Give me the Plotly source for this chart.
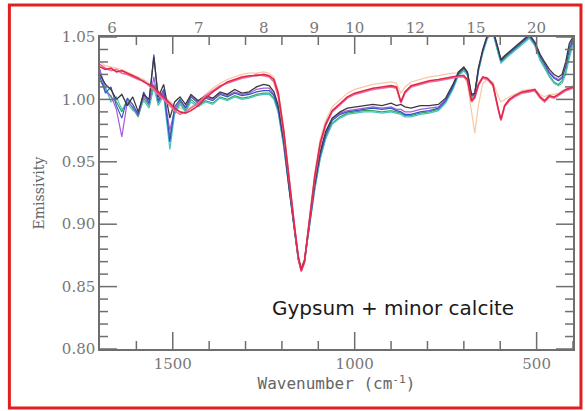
import plotly.graph_objects as go

# Wavenumber grid (cm^-1)
wavenumber = [1700,1685,1670,1655,1640,1625,1610,1595,1580,1565,1552,1540,1525,1508,1495,1480,1465,1450,1430,1410,
              1390,1370,1350,1330,1310,1290,1270,1250,1235,1222,
              1210,1195,1180,1165,1155,1147,1138,1125,1110,1095,1080,1062,
              1040,1020,1000,975,950,925,900,885,873,862,845,820,795,770,750,730,715,700,690,679,670,660,648,635,
              620,605,598,588,575,560,540,520,505,490,478,465,452,440,430,420,410,400]

red = [1.026,1.024,1.025,1.022,1.023,1.021,1.019,1.017,1.014,1.012,1.010,1.006,1.002,0.997,0.993,0.990,0.989,0.991,0.995,1.001,
       1.006,1.010,1.014,1.016,1.018,1.019,1.019,1.020,1.019,1.016,
       1.005,0.975,0.935,0.897,0.874,0.863,0.870,0.903,0.938,0.965,0.980,0.991,
       0.997,1.002,1.005,1.007,1.009,1.010,1.011,1.010,0.998,1.006,1.011,1.013,1.015,1.016,1.017,1.018,1.019,1.019,1.016,0.999,1.002,1.012,1.018,1.017,
       1.012,0.992,0.984,0.995,1.000,1.003,1.006,1.007,1.008,1.002,0.999,1.003,1.002,1.004,1.006,1.008,1.009,1.010]

pink = [1.028,1.025,1.023,1.024,1.021,1.020,1.018,1.016,1.015,1.011,1.008,1.004,1.000,0.995,0.991,0.988,0.990,0.993,0.997,1.003,
        1.007,1.011,1.013,1.015,1.017,1.018,1.020,1.019,1.018,1.014,
        1.002,0.972,0.933,0.895,0.872,0.862,0.869,0.901,0.936,0.963,0.979,0.990,
        0.996,1.001,1.004,1.006,1.008,1.009,1.010,1.009,0.997,1.005,1.010,1.012,1.014,1.015,1.016,1.017,1.018,1.018,1.015,0.998,1.001,1.011,1.017,1.016,
        1.011,0.991,0.983,0.994,0.999,1.002,1.005,1.006,1.007,1.001,0.998,1.002,1.001,1.003,1.005,1.007,1.008,1.009]

peach = [1.030,1.027,1.026,1.025,1.024,1.022,1.020,1.018,1.016,1.013,1.011,1.007,1.003,0.999,0.995,0.993,0.992,0.994,0.998,1.004,
         1.009,1.013,1.016,1.018,1.020,1.021,1.021,1.022,1.021,1.018,
         1.007,0.977,0.937,0.899,0.876,0.866,0.872,0.905,0.941,0.968,0.983,0.994,
         1.000,1.005,1.008,1.010,1.012,1.013,1.014,1.013,1.005,1.010,1.014,1.016,1.018,1.019,1.020,1.021,1.021,1.020,1.012,0.990,0.973,0.995,1.013,1.016,
         1.014,1.002,0.998,1.000,1.002,1.004,1.007,1.008,1.008,1.004,1.002,1.004,1.004,1.005,1.007,1.008,1.010,1.011]

black = [1.020,1.012,1.008,1.000,1.004,0.995,1.002,0.990,1.004,1.000,1.034,1.002,1.012,0.985,0.998,1.002,0.996,1.004,0.999,1.003,
         1.001,1.006,1.004,1.008,1.005,1.006,1.010,1.012,1.011,1.006,
         0.995,0.968,0.930,0.895,0.873,0.864,0.871,0.900,0.933,0.958,0.974,0.985,
         0.990,0.993,0.994,0.995,0.996,0.995,0.997,0.995,0.996,0.994,0.993,0.995,0.995,0.996,1.001,1.012,1.022,1.026,1.022,1.004,1.005,1.025,1.040,1.052,
         1.056,1.040,1.032,1.035,1.038,1.042,1.047,1.052,1.046,1.036,1.030,1.024,1.020,1.018,1.020,1.030,1.045,1.050]

blue = [1.018,1.005,1.010,0.995,0.985,1.001,0.996,0.988,1.006,0.997,1.036,0.999,1.008,0.966,0.994,1.000,0.993,1.002,0.997,1.001,
        0.999,1.004,1.002,1.005,1.003,1.004,1.006,1.007,1.007,1.003,
        0.992,0.965,0.928,0.894,0.872,0.863,0.870,0.898,0.930,0.955,0.971,0.983,
        0.988,0.990,0.991,0.992,0.993,0.992,0.993,0.991,0.990,0.988,0.988,0.990,0.991,0.993,0.999,1.010,1.021,1.025,1.021,1.003,1.004,1.024,1.039,1.051,
        1.055,1.039,1.031,1.034,1.037,1.041,1.046,1.051,1.045,1.034,1.028,1.021,1.017,1.015,1.017,1.026,1.040,1.048]

green = [1.015,1.008,1.002,0.998,0.990,1.000,0.993,0.986,1.001,0.995,1.012,0.997,1.005,0.970,0.990,0.998,0.991,1.000,0.995,0.999,
         0.997,1.002,1.000,1.003,1.001,1.002,1.004,1.005,1.005,1.001,
         0.990,0.963,0.927,0.893,0.872,0.864,0.871,0.897,0.928,0.953,0.969,0.981,
         0.986,0.989,0.990,0.991,0.991,0.990,0.991,0.990,0.989,0.987,0.987,0.989,0.990,0.992,0.998,1.009,1.020,1.024,1.020,1.002,1.004,1.023,1.038,1.050,
         1.054,1.037,1.030,1.033,1.036,1.040,1.045,1.050,1.044,1.032,1.026,1.019,1.014,1.012,1.015,1.022,1.036,1.046]

teal = [1.022,1.010,0.998,1.002,0.992,0.997,0.991,0.989,0.999,0.993,1.010,0.995,1.003,0.960,0.988,0.996,0.990,0.998,0.994,0.998,
        0.996,1.001,0.999,1.002,1.000,1.001,1.003,1.004,1.004,1.000,
        0.989,0.962,0.926,0.893,0.871,0.863,0.870,0.896,0.927,0.952,0.968,0.980,
        0.985,0.988,0.989,0.990,0.990,0.989,0.990,0.989,0.988,0.986,0.986,0.988,0.989,0.991,0.997,1.008,1.019,1.023,1.019,1.001,1.003,1.022,1.037,1.049,
        1.053,1.036,1.029,1.032,1.035,1.039,1.044,1.049,1.043,1.031,1.025,1.018,1.013,1.011,1.013,1.020,1.033,1.044]

purple = [1.024,1.006,1.003,0.992,0.970,0.998,0.994,0.987,1.003,0.996,1.018,0.998,1.006,0.975,0.992,0.999,0.994,1.003,0.998,1.002,
          1.000,1.005,1.003,1.006,1.004,1.005,1.008,1.009,1.009,1.004,
          0.993,0.966,0.929,0.894,0.872,0.864,0.871,0.899,0.931,0.956,0.972,0.984,
          0.989,0.991,0.992,0.993,0.994,0.993,0.994,0.992,0.992,0.990,0.990,0.992,0.993,0.994,1.000,1.011,1.021,1.025,1.021,1.003,1.005,1.024,1.039,1.051,
          1.055,1.039,1.031,1.034,1.037,1.041,1.046,1.051,1.045,1.035,1.029,1.022,1.018,1.016,1.018,1.027,1.042,1.049]

series_names = ["peach", "green", "teal", "purple", "blue", "black", "pink", "red"]
series_values = [peach, green, teal, purple, blue, black, pink, red]
series_colors = ["#f6c9a6", "#3aa65a", "#45c3c3", "#a55be0", "#3454c4", "#3a3a3a", "#f06a9c", "#e0284e"]
series_widths = [1.2, 1.2, 1.2, 1.2, 1.2, 1.3, 1.6, 1.6]

wavelength_labels = [6, 7, 8, 9, 10, 12, 15, 20]
wavelength_positions = [10000.0 / w for w in wavelength_labels]

x_major = [1500, 1000, 500]
x_minor = [1600, 1400, 1300, 1200, 1100, 900, 800, 700, 600, 400]
y_major = [0.80, 0.85, 0.90, 0.95, 1.00, 1.05]
y_minor = [0.81, 0.82, 0.83, 0.84, 0.86, 0.87, 0.88, 0.89, 0.91, 0.92, 0.93, 0.94,
           0.96, 0.97, 0.98, 0.99, 1.01, 1.02, 1.03, 1.04]

X_RANGE = [1700, 400]
Y_RANGE = [0.80, 1.05]

PLOT_W, PLOT_H = 475, 312   # plot-area size in px (585 - 100 - 10, 411 - 37 - 62)
MAJOR_LEN, MINOR_LEN = 17, 8

fig = go.Figure()
for name, vals, col, w in zip(series_names, series_values, series_colors, series_widths):
    fig.add_trace(go.Scatter(x=wavenumber, y=vals, mode="lines", name=name,
                             line=dict(color=col, width=w), showlegend=False))

# helper trace for the top (wavelength) label axis
fig.add_trace(go.Scatter(x=X_RANGE, y=[0.9, 0.9], xaxis="x2", yaxis="y", mode="markers",
                         marker=dict(size=1, opacity=0), showlegend=False, hoverinfo="skip"))

axis_grey = "#6e6e6e"
tick_font = dict(family="DejaVu Serif", size=15, color="#777777")

# inside tick marks on all four sides, placed at the tick values through the axes
tick_shapes = []
for vals, length in [(x_major, MAJOR_LEN), (x_minor, MINOR_LEN)]:
    f = length / PLOT_H
    for v in vals:
        tick_shapes.append(dict(type="line", xref="x", yref="paper", x0=v, x1=v, y0=0, y1=f,
                                line=dict(color=axis_grey, width=1.5)))
        tick_shapes.append(dict(type="line", xref="x", yref="paper", x0=v, x1=v, y0=1, y1=1 - f,
                                line=dict(color=axis_grey, width=1.5)))
for vals, length in [(y_major, MAJOR_LEN), (y_minor, MINOR_LEN)]:
    f = length / PLOT_W
    for v in vals:
        tick_shapes.append(dict(type="line", xref="paper", yref="y", x0=0, x1=f, y0=v, y1=v,
                                line=dict(color=axis_grey, width=1.5)))
        tick_shapes.append(dict(type="line", xref="paper", yref="y", x0=1, x1=1 - f, y0=v, y1=v,
                                line=dict(color=axis_grey, width=1.5)))

border = dict(type="rect", xref="paper", yref="paper",
              x0=(9 - 100) / PLOT_W, x1=(583 - 100) / PLOT_W,
              y0=(349 - 408) / PLOT_H, y1=(349 - 5) / PLOT_H,
              line=dict(color="#e02020", width=3), layer="below")

fig.update_layout(
    width=585, height=411,
    margin=dict(l=100, r=10, t=37, b=62),
    paper_bgcolor="white", plot_bgcolor="white",
    xaxis=dict(range=X_RANGE, tickmode="array", tickvals=x_major, ticks="",
               showline=True, linecolor=axis_grey, linewidth=1.5,
               mirror=True, showgrid=False, zeroline=False, tickfont=tick_font,
               title=dict(text="Wavenumber (cm<sup>-1</sup>)", standoff=4,
                          font=dict(family="DejaVu Sans Mono", size=16, color="#666666"))),
    xaxis2=dict(range=X_RANGE, overlaying="x", side="top", anchor="y", tickmode="array",
                tickvals=wavelength_positions, ticktext=[str(w) for w in wavelength_labels],
                ticks="", showline=False, showgrid=False, zeroline=False, tickfont=tick_font),
    yaxis=dict(range=Y_RANGE, tickmode="array", tickvals=y_major, tickformat=".2f",
               ticks="", showline=True,
               linecolor=axis_grey, linewidth=1.5, mirror=True, showgrid=False, zeroline=False,
               tickfont=tick_font,
               title=dict(text="Emissivity", standoff=14,
                          font=dict(family="DejaVu Serif", size=14, color="#666666"))),
    annotations=[dict(text="Gypsum + minor calcite", x=0.62, y=0.13, xref="paper", yref="paper",
                      showarrow=False, xanchor="center", yanchor="middle",
                      font=dict(family="DejaVu Sans", size=20, color="#1a1a1a"))],
    shapes=tick_shapes + [border],
)

fig.write_html("out.html")
